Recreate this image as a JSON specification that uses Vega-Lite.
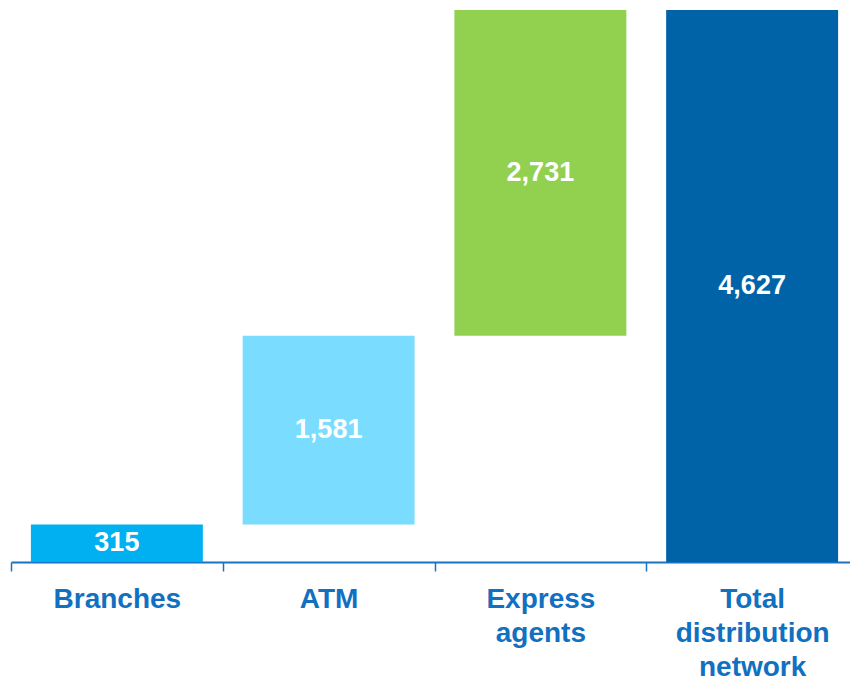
{
  "$schema": "https://vega.github.io/schema/vega-lite/v6.json",
  "width": 839,
  "height": 552,
  "autosize": {"type": "none"},
  "padding": {"left": 11, "top": 10, "right": 0, "bottom": 120},
  "background": "white",
  "config": {"view": {"stroke": null}, "font": "Liberation Sans"},
  "data": {
    "values": [
      {"category": "Branches", "start": 0, "end": 315, "value": 315},
      {"category": "ATM", "start": 315, "end": 1896, "value": 1581},
      {"category": "Express agents", "start": 1896, "end": 4627, "value": 2731},
      {"category": "Total distribution network", "start": 0, "end": 4627, "value": 4627}
    ]
  },
  "transform": [
    {"calculate": "(datum.start + datum.end) / 2", "as": "mid"},
    {"calculate": "format(datum.value, ',')", "as": "labelText"}
  ],
  "encoding": {
    "x": {
      "field": "category",
      "type": "nominal",
      "sort": null,
      "scale": {"range": [0, 847], "paddingInner": 0, "paddingOuter": 0},
      "axis": {
        "title": null,
        "labelAngle": 0,
        "labelExpr": "datum.value == 'Express agents' ? ['Express', 'agents'] : datum.value == 'Total distribution network' ? ['Total', 'distribution', 'network'] : datum.value",
        "labelFont": "Liberation Sans",
        "labelFontSize": 28,
        "labelFontWeight": "bold",
        "labelColor": "#1170BF",
        "labelLineHeight": 34,
        "labelPadding": 14,
        "labelLimit": 300,
        "tickBand": "extent",
        "tickSize": 9,
        "tickWidth": 1.5,
        "tickColor": "#1A73C2",
        "domainColor": "#1A73C2",
        "domainWidth": 2,
        "grid": false
      }
    }
  },
  "layer": [
    {
      "mark": {"type": "bar", "width": {"band": 0.812}},
      "encoding": {
        "y": {"field": "start", "type": "quantitative", "scale": {"domain": [0, 4627], "nice": false}, "axis": null},
        "y2": {"field": "end"},
        "color": {
          "field": "category",
          "type": "nominal",
          "scale": {
            "domain": ["Branches", "ATM", "Express agents", "Total distribution network"],
            "range": ["#00B0F0", "#7ADCFF", "#92D050", "#0063A8"]
          },
          "legend": null
        }
      }
    },
    {
      "mark": {"type": "text", "font": "Liberation Sans", "fontSize": 27, "fontWeight": "bold", "color": "white", "baseline": "middle", "align": "center"},
      "encoding": {
        "y": {"field": "mid", "type": "quantitative"},
        "text": {"field": "labelText", "type": "nominal"}
      }
    }
  ]
}
